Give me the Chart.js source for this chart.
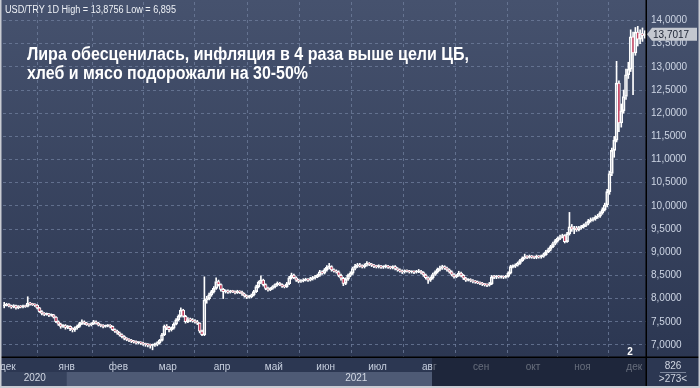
<!DOCTYPE html>
<html>
<head>
<meta charset="utf-8">
<script src="https://cdn.jsdelivr.net/npm/chart.js@4.4.0/dist/chart.umd.min.js"></script>
<style>
html, body { margin: 0; padding: 0; background: #2c3752; }
#wrap { width: 700px; height: 388px; }
</style>
</head>
<body>
<div id="wrap"><canvas id="usdtry" width="700" height="388"></canvas></div>
<script>
// USD/TRY daily candles, end of Nov 2020 .. early Dec 2021
const firstOpen = 7.84;
const closes = [
    7.86, 7.88, 7.84, 7.82, 7.85, 7.80, 7.83, 7.82, 7.84, 7.83,
    7.90, 7.88, 7.87, 7.86, 7.80, 7.72, 7.68, 7.66, 7.67, 7.64,
    7.65, 7.60, 7.50, 7.45, 7.40, 7.42, 7.38, 7.40, 7.35, 7.33,
    7.37, 7.40, 7.46, 7.50, 7.47, 7.44, 7.43, 7.46, 7.50, 7.47,
    7.43, 7.42, 7.40, 7.41, 7.42, 7.40, 7.33, 7.30, 7.26, 7.22,
    7.18, 7.14, 7.12, 7.10, 7.08, 7.07, 7.05, 7.05, 7.04, 7.02,
    7.01, 7.00, 6.99, 7.00, 7.01, 7.05, 7.10, 7.22, 7.40, 7.38,
    7.33, 7.36, 7.45, 7.54, 7.62, 7.75, 7.62, 7.50, 7.55, 7.54,
    7.52, 7.50, 7.47, 7.30, 7.22, 7.97, 8.00, 8.08, 8.15, 8.22,
    8.37, 8.30, 8.20, 8.15, 8.17, 8.14, 8.16, 8.15, 8.13, 8.16,
    8.14, 8.10, 8.06, 8.03, 8.04, 8.08, 8.15, 8.26, 8.35, 8.40,
    8.30, 8.22, 8.19, 8.22, 8.26, 8.30, 8.33, 8.30, 8.27, 8.26,
    8.32, 8.45, 8.51, 8.45, 8.40, 8.37, 8.38, 8.40, 8.41, 8.40,
    8.43, 8.45, 8.47, 8.50, 8.58, 8.55, 8.62, 8.68, 8.69, 8.62,
    8.60, 8.58, 8.50, 8.44, 8.33, 8.42, 8.50, 8.55, 8.65, 8.70,
    8.73, 8.70, 8.69, 8.72, 8.76, 8.74, 8.72, 8.70, 8.69, 8.70,
    8.68, 8.69, 8.70, 8.68, 8.67, 8.69, 8.65, 8.62, 8.60, 8.58,
    8.60, 8.59, 8.58, 8.58, 8.57, 8.58, 8.59, 8.56, 8.51, 8.45,
    8.40, 8.45, 8.52, 8.58, 8.63, 8.66, 8.69, 8.66, 8.62, 8.58,
    8.52, 8.47, 8.50, 8.55, 8.50, 8.44, 8.40, 8.41, 8.39, 8.37,
    8.36, 8.34, 8.33, 8.31, 8.30, 8.29, 8.32, 8.47, 8.46, 8.48,
    8.47, 8.47, 8.46, 8.48, 8.55, 8.69, 8.70, 8.72, 8.76, 8.82,
    8.87, 8.90, 8.89, 8.91, 8.90, 8.89, 8.91, 8.90, 8.91, 8.95,
    9.01, 9.06, 9.12, 9.19, 9.25, 9.30, 9.34, 9.36, 9.23, 9.40,
    9.55, 9.50, 9.52, 9.49, 9.53, 9.55, 9.58, 9.62, 9.68, 9.70,
    9.72, 9.76, 9.78, 9.85, 9.92, 10.02, 10.31, 10.70, 11.20, 11.42,
    12.65, 11.79, 12.05, 12.36, 12.83, 12.95, 13.65, 13.30, 13.75, 13.60, 13.72, 13.68, 13.7017
];
const highs = [
    7.92, 7.90, 7.89, 7.86, 7.87, 7.86, 7.85, 7.85, 7.86, 7.86,
    8.04, 7.92, 7.90, 7.89, 7.87, 7.81, 7.74, 7.70, 7.69, 7.68,
    7.67, 7.66, 7.61, 7.52, 7.47, 7.44, 7.44, 7.42, 7.41, 7.37,
    7.39, 7.43, 7.49, 7.54, 7.52, 7.49, 7.46, 7.48, 7.53, 7.52,
    7.49, 7.45, 7.44, 7.43, 7.44, 7.44, 7.41, 7.35, 7.32, 7.28,
    7.24, 7.20, 7.16, 7.14, 7.12, 7.10, 7.09, 7.07, 7.07, 7.06,
    7.04, 7.03, 7.02, 7.02, 7.04, 7.07, 7.12, 7.25, 7.43, 7.44,
    7.40, 7.39, 7.48, 7.57, 7.65, 7.80, 7.77, 7.64, 7.59, 7.58,
    7.57, 7.55, 7.53, 7.48, 7.32, 8.47, 8.05, 8.12, 8.18, 8.26,
    8.45, 8.40, 8.32, 8.22, 8.19, 8.19, 8.18, 8.18, 8.17, 8.18,
    8.17, 8.16, 8.12, 8.08, 8.07, 8.10, 8.18, 8.29, 8.38, 8.49,
    8.42, 8.32, 8.25, 8.24, 8.28, 8.32, 8.36, 8.35, 8.32, 8.29,
    8.35, 8.48, 8.55, 8.53, 8.47, 8.42, 8.41, 8.43, 8.44, 8.43,
    8.46, 8.48, 8.50, 8.53, 8.61, 8.60, 8.65, 8.71, 8.76, 8.71,
    8.64, 8.62, 8.60, 8.53, 8.46, 8.45, 8.53, 8.58, 8.68, 8.74,
    8.76, 8.76, 8.73, 8.75, 8.80, 8.78, 8.76, 8.74, 8.72, 8.73,
    8.72, 8.71, 8.73, 8.72, 8.70, 8.71, 8.71, 8.67, 8.64, 8.62,
    8.62, 8.62, 8.61, 8.60, 8.60, 8.61, 8.63, 8.61, 8.58, 8.53,
    8.47, 8.47, 8.55, 8.60, 8.66, 8.70, 8.72, 8.71, 8.68, 8.64,
    8.60, 8.54, 8.52, 8.59, 8.57, 8.52, 8.46, 8.43, 8.43, 8.41,
    8.39, 8.38, 8.36, 8.35, 8.33, 8.32, 8.35, 8.50, 8.50, 8.50,
    8.50, 8.49, 8.49, 8.50, 8.58, 8.72, 8.73, 8.75, 8.79, 8.85,
    8.90, 8.96, 8.93, 8.94, 8.93, 8.92, 8.94, 8.93, 8.94, 8.98,
    9.04, 9.09, 9.15, 9.22, 9.28, 9.33, 9.37, 9.39, 9.38, 9.43,
    9.86, 9.60, 9.56, 9.56, 9.56, 9.58, 9.61, 9.65, 9.71, 9.74,
    9.75, 9.79, 9.82, 9.88, 9.96, 10.06, 10.36, 10.75, 11.25, 11.50,
    13.12, 12.70, 12.20, 12.50, 12.95, 13.10, 13.80, 13.75, 13.85, 13.8756, 13.80, 13.84, 13.78
];
const lows = [
    7.80, 7.84, 7.82, 7.79, 7.80, 7.77, 7.78, 7.80, 7.80, 7.81,
    7.82, 7.86, 7.85, 7.83, 7.78, 7.70, 7.65, 7.63, 7.64, 7.61,
    7.62, 7.58, 7.48, 7.42, 7.36, 7.38, 7.34, 7.35, 7.31, 7.28,
    7.29, 7.34, 7.38, 7.44, 7.44, 7.42, 7.40, 7.41, 7.44, 7.45,
    7.41, 7.39, 7.37, 7.38, 7.39, 7.37, 7.31, 7.27, 7.23, 7.19,
    7.15, 7.11, 7.09, 7.07, 7.05, 7.04, 7.02, 7.02, 7.01, 6.99,
    6.97, 6.96, 6.93, 6.895, 6.97, 6.98, 7.02, 7.08, 7.20, 7.33,
    7.28, 7.30, 7.34, 7.43, 7.52, 7.60, 7.60, 7.47, 7.48, 7.50,
    7.49, 7.47, 7.44, 7.26, 7.20, 7.20, 7.90, 7.97, 8.05, 8.12,
    8.20, 8.27, 8.16, 8.00, 8.12, 8.11, 8.12, 8.13, 8.10, 8.11,
    8.11, 8.07, 8.03, 8.00, 8.01, 8.02, 8.06, 8.13, 8.23, 8.32,
    8.27, 8.19, 8.16, 8.17, 8.20, 8.23, 8.27, 8.28, 8.24, 8.23,
    8.24, 8.30, 8.42, 8.43, 8.37, 8.34, 8.35, 8.36, 8.38, 8.37,
    8.38, 8.40, 8.42, 8.45, 8.48, 8.52, 8.53, 8.59, 8.64, 8.59,
    8.57, 8.55, 8.47, 8.40, 8.28, 8.30, 8.39, 8.47, 8.52, 8.62,
    8.67, 8.68, 8.66, 8.66, 8.70, 8.71, 8.69, 8.67, 8.66, 8.66,
    8.65, 8.65, 8.66, 8.65, 8.64, 8.64, 8.62, 8.59, 8.57, 8.54,
    8.55, 8.57, 8.55, 8.55, 8.54, 8.55, 8.56, 8.53, 8.48, 8.42,
    8.33, 8.37, 8.42, 8.50, 8.55, 8.60, 8.63, 8.63, 8.59, 8.55,
    8.49, 8.44, 8.45, 8.48, 8.47, 8.41, 8.37, 8.38, 8.36, 8.34,
    8.33, 8.32, 8.30, 8.28, 8.27, 8.26, 8.27, 8.30, 8.43, 8.43,
    8.44, 8.44, 8.43, 8.44, 8.46, 8.53, 8.66, 8.67, 8.70, 8.74,
    8.80, 8.85, 8.86, 8.87, 8.87, 8.86, 8.86, 8.87, 8.87, 8.89,
    8.93, 8.99, 9.03, 9.10, 9.16, 9.22, 9.27, 9.31, 9.20, 9.21,
    9.37, 9.45, 9.40, 9.45, 9.46, 9.50, 9.52, 9.55, 9.59, 9.65,
    9.67, 9.69, 9.73, 9.75, 9.82, 9.89, 9.98, 10.25, 10.65, 11.05,
    11.38, 11.60, 11.70, 12.00, 12.30, 12.75, 12.90, 12.40, 13.25, 13.45, 13.50, 13.55, 13.62
];
// first bar of each month on the time axis
const monthStarts = [2, 27, 49, 70, 93, 115, 137, 159, 181, 203, 225, 246, 268];
const monthLabels = ['дек', 'янв', 'фев', 'мар', 'апр', 'май', 'июн', 'июл', 'авг', 'сен', 'окт', 'ноя', 'дек'];
const yearLabels = ['2020', '2021'];
const yTicks = [7, 7.5, 8, 8.5, 9, 9.5, 10, 10.5, 11, 11.5, 12, 12.5, 13, 13.5, 14];

const headerText = 'USD/TRY 1D High = 13,8756 Low = 6,895';
const titleLines = ['Лира обесценилась, инфляция в 4 раза выше цели ЦБ,', 'хлеб и мясо подорожали на 30-50%'];

// open of a bar = close of the bar before
const opens = closes.map((c, i) => i === 0 ? firstOpen : closes[i - 1]);
const bodies = closes.map((c, i) => ({ x: i, y: [opens[i], c] }));
const upperWicks = closes.map((c, i) => ({ x: i, y: [Math.max(opens[i], c), highs[i]] }));
const lowerWicks = closes.map((c, i) => ({ x: i, y: [lows[i], Math.min(opens[i], c)] }));

const fmt = v => v.toFixed(4).replace('.', ',');

function fitText(ctx, text, x, y, width, font, color) {
    ctx.save();
    ctx.font = font;
    ctx.fillStyle = color;
    ctx.textBaseline = 'alphabetic';
    ctx.textAlign = 'left';
    const w = ctx.measureText(text).width;
    ctx.translate(x, y);
    ctx.scale(width / w, 1);
    ctx.fillText(text, 0, 0);
    ctx.restore();
}

const decor = {
    id: 'decor',
    beforeDraw(chart) {
        const ctx = chart.ctx;
        const xs = chart.scales.x;
        const g = ctx.createLinearGradient(0, 0, 0, 357);
        g.addColorStop(0, '#46526e');
        g.addColorStop(1, '#2c3752');
        ctx.save();
        ctx.fillStyle = g;
        ctx.fillRect(0, 0, 700, 357);
        ctx.fillStyle = '#2c3752';
        ctx.fillRect(0, 357, 700, 31);
        const janX = xs.getPixelForValue(monthStarts[1] - 0.5);
        ctx.fillStyle = '#36425d';
        ctx.fillRect(0, 372, janX, 14);
        ctx.fillStyle = '#4e5a75';
        ctx.fillRect(janX, 372, 432 - janX, 14);
        ctx.restore();
    },
    afterDraw(chart) {
        const ctx = chart.ctx;
        const xs = chart.scales.x;
        const ys = chart.scales.y;
        const area = chart.chartArea;
        const janX = xs.getPixelForValue(monthStarts[1] - 0.5);
        ctx.save();
        // year row
        ctx.font = '10px "Liberation Sans"';
        ctx.fillStyle = '#d3d9e5';
        ctx.textAlign = 'center';
        ctx.textBaseline = 'middle';
        ctx.fillText(yearLabels[0], (area.left + janX) / 2, 378);
        ctx.fillText(yearLabels[1], (janX + area.right) / 2, 378);
        // dimmed part of the time axis
        ctx.fillStyle = 'rgba(20,26,40,0.55)';
        ctx.fillRect(432, 357, area.right - 432, 29);
        // separators
        ctx.fillStyle = '#000';
        ctx.fillRect(0, 356.5, 700, 1.5);
        ctx.fillRect(645.5, 0, 1.5, 388);
        // bar counter
        ctx.fillStyle = '#d0d6e2';
        ctx.fillText('826', 673, 366);
        ctx.fillText('>273<', 673, 379);
        ctx.fillStyle = '#7a849a';
        ctx.fillRect(660, 372, 26, 1);
        // last price marker
        const last = closes[closes.length - 1];
        const py = ys.getPixelForValue(last);
        ctx.fillStyle = '#c4c8d0';
        ctx.beginPath();
        ctx.moveTo(647, py);
        ctx.lineTo(652, py - 6.5);
        ctx.lineTo(697, py - 6.5);
        ctx.lineTo(697, py + 6.5);
        ctx.lineTo(652, py + 6.5);
        ctx.closePath();
        ctx.fill();
        ctx.fillStyle = '#1c2333';
        ctx.textAlign = 'left';
        ctx.fillText(fmt(last), 653, py + 0.5);
        // small "2" marker
        ctx.fillStyle = '#ffffff';
        ctx.font = 'bold 10px "Liberation Sans"';
        ctx.textAlign = 'center';
        ctx.fillText('2', 630, 352);
        // outer frame
        ctx.fillStyle = '#c9ccd3';
        ctx.fillRect(0, 386, 700, 2);
        ctx.fillRect(0, 0, 1.5, 388);
        ctx.fillRect(698.5, 0, 1.5, 388);
        ctx.restore();
        // texts
        fitText(ctx, headerText, 5, 13, 171, '10px "Liberation Sans"', '#eef1f6');
        fitText(ctx, titleLines[0], 27, 60, 442, 'bold 18px "Liberation Sans"', '#ffffff');
        fitText(ctx, titleLines[1], 27, 79, 281, 'bold 18px "Liberation Sans"', '#ffffff');
    }
};

const ctx = document.getElementById('usdtry').getContext('2d');

const chart = new Chart(ctx, {
    type: 'bar',
    data: {
        datasets: [
            {
                data: bodies,
                barThickness: 3,
                borderWidth: 1,
                borderColor: '#ffffff',
                borderSkipped: false,
                minBarLength: 1,
                backgroundColor: c => (c.raw && c.raw.y[1] < c.raw.y[0]) ? '#c4405f' : 'rgba(0,0,0,0)',
                grouped: false,
                order: 0
            },
            {
                data: upperWicks,
                barThickness: 1,
                borderWidth: 0,
                backgroundColor: '#ffffff',
                grouped: false,
                order: 1
            },
            {
                data: lowerWicks,
                barThickness: 1,
                borderWidth: 0,
                backgroundColor: '#ffffff',
                grouped: false,
                order: 1
            }
        ]
    },
    options: {
        responsive: false,
        animation: false,
        layout: { padding: { left: 3, top: 2, right: 0, bottom: 0 } },
        plugins: {
            legend: { display: false },
            tooltip: { enabled: false }
        },
        scales: {
            x: {
                type: 'linear',
                min: -0.5,
                max: closes.length - 0.5,
                offset: false,
                afterBuildTicks: s => { s.ticks = monthStarts.map(v => ({ value: v - 0.5 })); },
                afterFit: s => { s.height = 31; s.paddingLeft = 0; s.paddingRight = 0; },
                ticks: {
                    autoSkip: false,
                    maxRotation: 0,
                    padding: 4,
                    color: '#c8d0df',
                    font: { family: 'Liberation Sans', size: 10 },
                    callback: (v, i) => monthLabels[i]
                },
                grid: { color: 'rgba(112,127,158,0.75)', drawTicks: false },
                border: { color: '#000', width: 1, dash: [3, 3] }
            },
            y: {
                position: 'right',
                min: 6.74,
                max: 14.40,
                afterBuildTicks: s => { s.ticks = yTicks.map(v => ({ value: v })); },
                afterFit: s => { s.width = 54; s.paddingTop = 0; s.paddingBottom = 0; },
                ticks: {
                    padding: 5,
                    color: '#cdd5e4',
                    font: { family: 'Liberation Sans', size: 10 },
                    callback: v => fmt(v)
                },
                grid: { color: 'rgba(112,127,158,0.75)', drawTicks: false },
                border: { color: '#000', width: 1, dash: [3, 3] }
            }
        }
    },
    plugins: [decor]
});
</script>
</body>
</html>
